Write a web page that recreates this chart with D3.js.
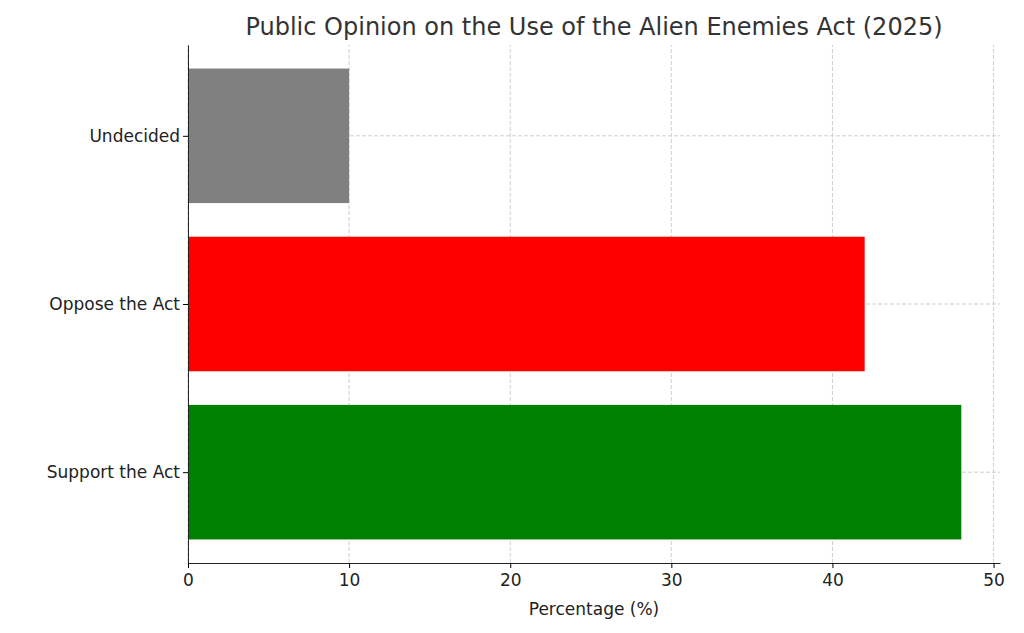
<!DOCTYPE html>
<html>
<head>
<meta charset="utf-8">
<script src="https://cdn.jsdelivr.net/npm/d3@7"></script>
<style>
  body { margin: 0; background: #fff; }
  text { font-family: "DejaVu Sans", sans-serif; }
</style>
</head>
<body>
<div id="chart"></div>
<script>
// Données
const categories = ["Support the Act", "Oppose the Act", "Undecided"];
const values = [48, 42, 10];
const colors = ["green", "red", "gray"];
const xTicks = [0, 10, 20, 30, 40, 50];

const width = 1024;
const height = 633;
const margin = { top: 45, right: 24, bottom: 70, left: 188 };

const svg = d3
  .select("#chart")
  .append("svg")
  .attr("width", width)
  .attr("height", height);

const x = d3
  .scaleLinear()
  .domain([0, 50.4])
  .range([margin.left, width - margin.right]);

// positions comme matplotlib : barres de hauteur 0.8, marges de 5 %
const y = d3
  .scaleLinear()
  .domain([-0.54, 2.54])
  .range([height - margin.bottom, margin.top]);

// grille verticale
svg
  .append("g")
  .selectAll("line")
  .data(xTicks)
  .join("line")
  .attr("x1", (d) => x(d))
  .attr("x2", (d) => x(d))
  .attr("y1", y(-0.54))
  .attr("y2", y(2.54))
  .attr("stroke", "#cfcfcf")
  .attr("stroke-dasharray", "4 2");

// grille horizontale
svg
  .append("g")
  .selectAll("line")
  .data(categories)
  .join("line")
  .attr("x1", x(0))
  .attr("x2", x(50.4))
  .attr("y1", (d, i) => y(i))
  .attr("y2", (d, i) => y(i))
  .attr("stroke", "#cfcfcf")
  .attr("stroke-dasharray", "4 2");

// barres
svg
  .append("g")
  .selectAll("rect")
  .data(values)
  .join("rect")
  .attr("x", x(0))
  .attr("y", (d, i) => y(i + 0.4))
  .attr("width", (d) => x(d) - x(0))
  .attr("height", (d, i) => y(i - 0.4) - y(i + 0.4))
  .attr("fill", (d, i) => colors[i]);

// axe x
svg
  .append("g")
  .attr("transform", `translate(0,${height - margin.bottom})`)
  .call(d3.axisBottom(x).tickValues(xTicks).tickSize(5).tickSizeOuter(0))
  .call((g) => g.selectAll("text").attr("font-size", 17).attr("fill", "#222").attr("dy", "0.9em"))
  .call((g) => g.select(".domain").attr("stroke", "#222"));

// axe y
svg
  .append("g")
  .attr("transform", `translate(${margin.left},0)`)
  .call(
    d3.axisLeft(y)
      .tickValues([0, 1, 2])
      .tickFormat((d) => categories[d])
      .tickSize(5)
      .tickSizeOuter(0)
  )
  .call((g) => g.selectAll("text").attr("font-size", 17).attr("fill", "#222"))
  .call((g) => g.select(".domain").attr("stroke", "#222"));

svg
  .append("text")
  .attr("x", (x(0) + x(50.4)) / 2)
  .attr("y", 615)
  .attr("text-anchor", "middle")
  .attr("font-size", 17)
  .attr("fill", "#222")
  .text("Percentage (%)");

svg
  .append("text")
  .attr("x", 594)
  .attr("y", 35)
  .attr("text-anchor", "middle")
  .attr("font-size", 24)
  .attr("fill", "#333")
  .text("Public Opinion on the Use of the Alien Enemies Act (2025)");
</script>
</body>
</html>
